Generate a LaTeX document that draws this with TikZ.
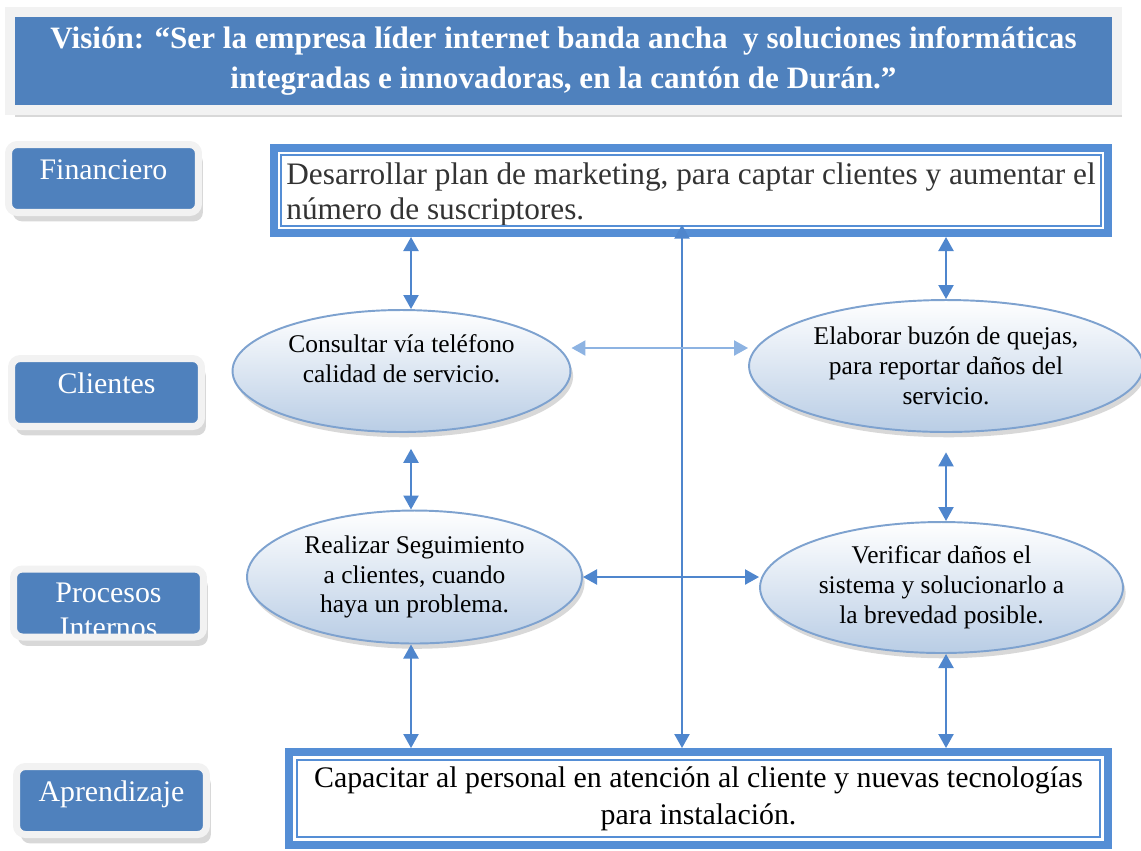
\documentclass[tikz,border=0pt]{standalone}
\usepackage{fontspec}
\setmainfont{Liberation Serif}
\usetikzlibrary{arrows.meta,positioning,shadows,shapes,calc}

\definecolor{visblue}{RGB}{79,129,189}
\definecolor{boxgray}{RGB}{242,242,242}
\definecolor{frameblue}{RGB}{85,142,213}
\definecolor{arrblue}{RGB}{79,134,205}
\definecolor{lightarr}{RGB}{141,179,226}
\definecolor{ovalline}{RGB}{126,162,207}
\definecolor{ovalblue}{RGB}{185,205,229}

\begin{document}
\begin{tikzpicture}[x=0.02cm, y=-0.02cm, >={Triangle[length=8pt,width=8.5pt]},
    every node/.style={inner sep=0pt},
    vision/.style={fill=visblue, draw=boxgray, line width=5.5pt, minimum width=22.15cm,
        minimum height=1.95cm, align=center, text=white,
        font=\bfseries\fontsize{17.7}{22.7}\selectfont,
        drop shadow={shadow xshift=3pt, shadow yshift=-4pt, fill=gray!60}},
    persp/.style={fill=visblue, draw=boxgray, line width=4pt, rounded corners=5pt,
        minimum width=3.8cm, minimum height=1.36cm,
        drop shadow={shadow xshift=2.5pt, shadow yshift=-5pt, fill=gray!60}},
    persplabel/.style={text=white, font=\fontsize{17}{20}\selectfont,
        text height=0.69cm, text depth=0.67cm},
    objbox/.style={draw=frameblue, line width=4.5pt, fill=white},
    innerline/.style={draw=frameblue, line width=0.9pt},
    oval/.style={ellipse, draw=ovalline, line width=1.1pt, top color=white,
        bottom color=ovalblue, align=center, font=\fontsize{14.5}{17}\selectfont,
        drop shadow={shadow xshift=1.5pt, shadow yshift=-3pt, fill=gray!60}},
    biarr/.style={<->, draw=arrblue, line width=1.4pt}
    ]
\useasboundingbox (0,0) rectangle (1141,850);

% vision
\node[vision] (vis) at (563.5,61)
    {Visión: “Ser la empresa líder internet banda ancha \ y soluciones informáticas\\
     integradas e innovadoras, en la cantón de Durán.”};

% perspectivas
\node[persp, persplabel] (fin) at (103.5,178.5) {Financiero};
\node[persp, persplabel] (cli) at (106.5,392.5) {Clientes};
\node[persp, path picture={\node[anchor=north, align=center, text=white,
        font=\fontsize{17}{20}\selectfont]
        at ([yshift=-0.07cm]path picture bounding box.north) {Procesos\\Internos};}]
    (pro) at (108.5,603) {};
\node[persp, persplabel] (apr) at (111.5,800.5) {Aprendizaje};

% objetivos
\node[objbox, minimum width=16.68cm, minimum height=1.7cm, align=left,
    text=black!80, font=\fontsize{17.8}{20}\selectfont] (obj) at (691,190.5)
    {\rule{0pt}{17pt}Desarrollar plan de marketing, para captar clientes y aumentar el\\
     número de suscriptores.};
\draw[innerline] ($(obj.north west)+(11,11)$) rectangle ($(obj.south east)+(-11,-11)$);

\node[objbox, minimum width=16.38cm, minimum height=1.86cm, align=center,
    font=\fontsize{17}{21}\selectfont] (cap) at (698.5,798.5)
    {Capacitar al personal en atención al cliente y nuevas tecnologías\\
     para instalación.};
\draw[innerline] ($(cap.north west)+(12,12)$) rectangle ($(cap.south east)+(-12,-12)$);

\node[oval, minimum width=6.76cm, minimum height=2.44cm] (cons) at (401.5,371)
    {Consultar vía teléfono\\calidad de servicio.\rule[-14pt]{0pt}{0pt}};
\node[oval, minimum width=7.88cm, minimum height=2.64cm] (buz) at (946,366)
    {Elaborar buzón de quejas,\\para reportar daños del\\servicio.};
\node[oval, minimum width=6.7cm, minimum height=2.66cm] (seg) at (414.5,577)
    {Realizar Seguimiento\\a clientes, cuando\\haya un problema.};
\node[oval, minimum width=7.26cm, minimum height=2.62cm] (ver) at (941.5,587.5)
    {Verificar daños el\\sistema y solucionarlo a\\la brevedad posible.};

\coordinate (lcol) at (411,0);
\coordinate (mcol) at (682,0);
\coordinate (rcol) at (946,0);
\coordinate (hrow) at (0,348);

\path
(obj.south -| lcol) edge [biarr] (cons.north -| lcol)
(obj.south -| rcol) edge [biarr] (buz.north -| rcol)
(cons.south -| lcol) edge [biarr, shorten <=9pt] (seg.north -| lcol)
(buz.south -| rcol) edge [biarr, shorten <=11pt] (ver.north -| rcol)
(seg.south -| lcol) edge [biarr] (cap.north -| lcol)
(ver.south -| rcol) edge [biarr] (cap.north -| rcol)
(obj.south -| mcol) edge [biarr, shorten <=-7pt] (cap.north -| mcol)
(cons.east |- hrow) edge [biarr, draw=lightarr] (buz.west |- hrow)
(seg.east) edge [biarr] (ver.west |- seg.east)
;
\end{tikzpicture}
\end{document}
